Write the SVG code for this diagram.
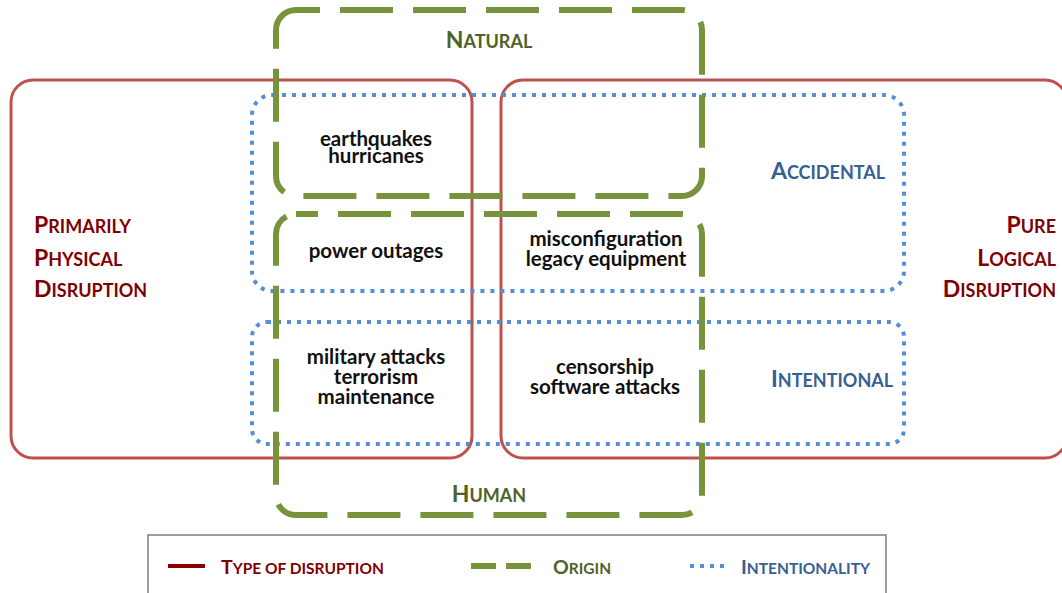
<svg xmlns="http://www.w3.org/2000/svg" width="1062" height="593" viewBox="0 0 1062 593">
<style>
.red{fill:none;stroke:#c0504d;stroke-width:3}
.green{fill:none;stroke:#77933c;stroke-width:6;stroke-dasharray:53 20}
.blue{fill:none;stroke:#558ed5;stroke-width:4;stroke-dasharray:4 6}
.body{font-family:Lato,"Liberation Sans",sans-serif;font-weight:bold;font-size:20.5px;fill:#111;text-anchor:middle}
.sc{font-family:Lato,"Liberation Sans",sans-serif;font-weight:bold;font-size:18px}
.sc .c{font-size:23px}
.lg{font-family:Lato,"Liberation Sans",sans-serif;font-weight:bold;font-size:15.5px}
.lg .c{font-size:19.5px}
.dred{fill:#7f0000}
.dgreen{fill:#4f6228}
.dblue{fill:#376092}
</style>
<rect width="1062" height="593" fill="#fff"/>
<g id="physical"><rect class="red" x="11" y="80" width="461" height="378" rx="22"/></g>
<g id="logical"><rect class="red" x="501" y="80" width="566" height="378" rx="22"/></g>
<g id="accidental"><rect class="blue" x="252" y="95" width="652" height="196" rx="20"/></g>
<g id="intentional"><rect class="blue" x="252" y="322" width="652" height="122" rx="15"/></g>
<g id="natural"><rect class="green" x="276" y="10" width="426" height="186" rx="20" stroke-dashoffset="29"/></g>
<g id="human"><rect class="green" x="276" y="214" width="426" height="301" rx="20" stroke-dashoffset="31"/></g>
<g id="connectors"></g>
<g id="labels">
<text class="sc dred" x="34" y="233"><tspan class="c">P</tspan>RIMARILY</text>
<text class="sc dred" x="34" y="266"><tspan class="c">P</tspan>HYSICAL</text>
<text class="sc dred" x="34" y="297"><tspan class="c">D</tspan>ISRUPTION</text>
<text class="sc dred" x="1056" y="233" text-anchor="end"><tspan class="c">P</tspan>URE</text>
<text class="sc dred" x="1056" y="266" text-anchor="end"><tspan class="c">L</tspan>OGICAL</text>
<text class="sc dred" x="1056" y="297" text-anchor="end"><tspan class="c">D</tspan>ISRUPTION</text>
<text class="sc dgreen" x="489" y="48" text-anchor="middle"><tspan class="c">N</tspan>ATURAL</text>
<text class="sc dgreen" x="489" y="502" text-anchor="middle"><tspan class="c">H</tspan>UMAN</text>
<text class="sc dblue" x="771" y="179"><tspan class="c">A</tspan>CCIDENTAL</text>
<text class="sc dblue" x="771" y="387"><tspan class="c">I</tspan>NTENTIONAL</text>
</g>
<g id="cells">
<text class="body" x="376" y="146">earthquakes</text>
<text class="body" x="376" y="163">hurricanes</text>
<text class="body" x="376" y="258">power outages</text>
<text class="body" x="606" y="246">misconfiguration</text>
<text class="body" x="606" y="266">legacy equipment</text>
<text class="body" x="376" y="364">military attacks</text>
<text class="body" x="376" y="384">terrorism</text>
<text class="body" x="376" y="404">maintenance</text>
<text class="body" x="605" y="374">censorship</text>
<text class="body" x="605" y="394">software attacks</text>
</g>
<g id="legend">
<rect x="148" y="535" width="738" height="70" fill="none" stroke="#808080" stroke-width="1.5"/>
<line x1="168" y1="566" x2="205" y2="566" stroke="#8b0000" stroke-width="4"/>
<text class="lg dred" x="221" y="574"><tspan class="c">T</tspan>YPE OF DISRUPTION</text>
<line x1="471" y1="566" x2="531" y2="566" stroke="#77933c" stroke-width="6" stroke-dasharray="25 10"/>
<text class="lg dgreen" x="553" y="574"><tspan class="c">O</tspan>RIGIN</text>
<line x1="690" y1="566" x2="727" y2="566" stroke="#558ed5" stroke-width="4" stroke-dasharray="4 6"/>
<text class="lg dblue" x="741" y="574"><tspan class="c">I</tspan>NTENTIONALITY</text>
</g>
</svg>
